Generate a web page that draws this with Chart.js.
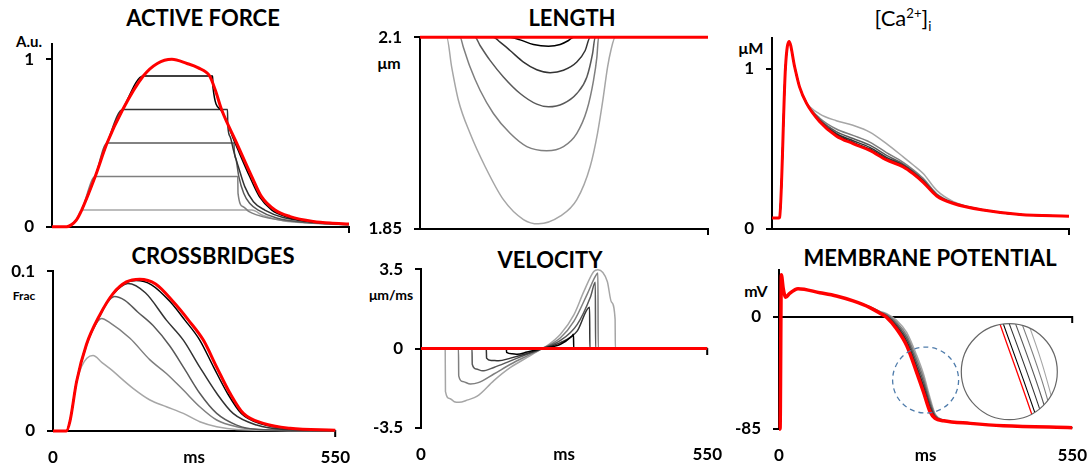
<!DOCTYPE html>
<html>
<head>
<meta charset="utf-8">
<script src="https://cdn.jsdelivr.net/npm/chart.js@4.4.0/dist/chart.umd.min.js"></script>
<style>
  body { margin: 0; background: #fff; }
  #fig { position: relative; width: 1089px; height: 467px; overflow: hidden; font-family: Lato, 'Open Sans', sans-serif; color: #000; }
  #fig canvas { position: absolute; }
  .lbl { position: absolute; transform: translate(-50%, -50%); font-weight: bold; white-space: nowrap; line-height: 1; }
  .ttl { font-size: 22px; }
  sup, sub { font-size: 60%; }
</style>
</head>
<body>
<div id="fig">
  <div class="lbl ttl" style="left:203px;top:18px">ACTIVE FORCE</div>
  <div class="lbl ttl" style="left:572px;top:18px">LENGTH</div>
  <div class="lbl ttl" style="left:903px;top:20px;font-weight:normal">[Ca<sup>2+</sup>]<sub>i</sub></div>
  <div class="lbl ttl" style="left:213px;top:256px">CROSSBRIDGES</div>
  <div class="lbl ttl" style="left:550px;top:260px">VELOCITY</div>
  <div class="lbl ttl" style="left:930px;top:258px">MEMBRANE POTENTIAL</div>
  <div class="lbl" style="left:29px;top:41px;font-size:15px">A.u.</div>
  <div class="lbl" style="left:389px;top:63px;font-size:16px">μm</div>
  <div class="lbl" style="left:751px;top:48px;font-size:16px">μM</div>
  <div class="lbl" style="left:24px;top:296px;font-size:12px">Frac</div>
  <div class="lbl" style="left:391px;top:295px;font-size:14px">μm/ms</div>
  <div class="lbl" style="left:756px;top:291px;font-size:16px">mV</div>
</div>
<script>
const FONT = "Lato, 'Open Sans', sans-serif";
const RED = '#ff0000';
// afterload 0.1 .. 0.9, light to dark
const GREYS = ['#a6a6a6', '#7f7f7f', '#595959', '#333333', '#000000'];
const xTicks = [0, 275, 550];

// ---- ACTIVE FORCE (A.u.) [ms, value]
const forceIso = [[0,0],[27,0],[35,0.01],[45,0.04],[55,0.1],[80,0.3],[102,0.5],[131,0.7],[169,0.9],[195,0.975],[222,1],[250,0.975],[270,0.95],[292,0.9],[303,0.81],[314,0.7],[342,0.5],[370,0.3],[388,0.18],[413,0.1],[441,0.061],[484,0.032],[515,0.022],[550,0.017]];
const force09 = [[0,0],[27,0],[35,0.01],[45,0.04],[55,0.1],[80,0.3],[102,0.5],[131,0.7],[169,0.9],[297.5,0.9],[298,0.835],[312,0.7],[339,0.5],[366,0.3],[384,0.18],[407,0.1],[434,0.06],[480,0.03],[550,0.015]];
const force07 = [[0,0],[27,0],[35,0.01],[45,0.04],[55,0.1],[80,0.3],[102,0.5],[131,0.7],[325,0.7],[325.5,0.607],[330,0.537],[336,0.458],[345,0.36],[357,0.24],[373,0.15],[394,0.1],[428,0.056],[484,0.03],[550,0.015]];
const force05 = [[0,0],[27,0],[35,0.01],[45,0.04],[55,0.1],[80,0.3],[102,0.5],[337,0.5],[337.5,0.455],[341,0.4],[346,0.3],[355,0.2],[366,0.14],[382,0.1],[416,0.052],[472,0.025],[550,0.013]];
const force03 = [[0,0],[27,0],[35,0.01],[45,0.04],[55,0.1],[80,0.3],[344,0.3],[344.5,0.2],[354,0.12],[365,0.09],[379,0.071],[428,0.037],[490,0.022],[550,0.012]];
const force01 = [[0,0],[27,0],[35,0.01],[45,0.04],[55,0.1],[370,0.1],[391,0.067],[428,0.036],[490,0.02],[550,0.011]];

// ---- LENGTH (um)
const lenIso = [[0,2.1],[550,2.1]];
const len09 = [[0,2.1],[172,2.1],[191.2,2.0965],[216.7,2.0905],[245.4,2.0883],[267.7,2.0905],[283.6,2.0957],[293.2,2.1],[550,2.1]];
const len07 = [[0,2.1],[140,2.1],[153,2.0935],[172,2.0827],[197.6,2.0676],[223,2.0576],[248.5,2.0537],[274,2.0568],[299.5,2.0676],[315.5,2.0827],[325,2.1],[550,2.1]];
const len05 = [[0,2.1],[105,2.1],[114.7,2.0892],[133.8,2.0697],[159.3,2.0481],[191.2,2.0265],[223,2.0126],[245.4,2.0092],[274,2.0135],[299.5,2.0265],[318.7,2.0481],[329.5,2.0784],[334.6,2.1],[550,2.1]];
const len03 = [[0,2.1],[76.5,2.1],[82.8,2.087],[95.6,2.061],[114.7,2.0308],[140.2,2.0005],[172,1.9746],[204,1.9573],[242,1.952],[274,1.9573],[299.5,1.9746],[318.7,2.0049],[331.4,2.0438],[337.8,2.074],[341,2.1],[550,2.1]];
const len01 = [[0,2.1],[51,2.1],[60.5,2.061],[73.3,2.0178],[95.6,1.9746],[124.3,1.9313],[159.3,1.888],[197.6,1.8621],[226.2,1.8565],[267.7,1.8664],[299.5,1.888],[325,1.9313],[339,1.9746],[349.2,2.0178],[358.2,2.061],[364.5,2.0827],[372.8,2.1],[550,2.1]];

// ---- [Ca2+]i (uM), common time base
const caT   = [0,13,14,25,31.5,42,51,64,88,119,150,181,212,243,261,280,305,336,397,459,550];
const caIso = [0.068,0.068,0.07,1.01,1.17,1.01,0.886,0.783,0.67,0.58,0.532,0.49,0.43,0.387,0.345,0.29,0.205,0.158,0.114,0.089,0.079];
const ca09  = [0.068,0.068,0.07,1.01,1.17,1.01,0.886,0.783,0.673,0.586,0.539,0.497,0.436,0.391,0.348,0.293,0.207,0.159,0.114,0.089,0.079];
const ca07  = [0.068,0.068,0.07,1.01,1.17,1.01,0.886,0.783,0.678,0.595,0.55,0.508,0.446,0.397,0.354,0.299,0.211,0.16,0.114,0.089,0.079];
const ca05  = [0.068,0.068,0.07,1.01,1.17,1.01,0.886,0.784,0.683,0.607,0.564,0.522,0.459,0.404,0.36,0.305,0.214,0.162,0.114,0.089,0.079];
const ca03  = [0.068,0.068,0.07,1.01,1.17,1.01,0.886,0.785,0.692,0.623,0.583,0.541,0.476,0.415,0.37,0.315,0.219,0.164,0.115,0.089,0.079];
const ca01  = [0.068,0.068,0.07,1.01,1.17,1.01,0.886,0.787,0.718,0.675,0.646,0.604,0.532,0.449,0.4,0.345,0.24,0.17,0.116,0.09,0.079];

// ---- CROSSBRIDGES (fraction)
const cbIso = [[0,0],[26,0],[33,0.006],[46,0.031],[65,0.054],[91,0.0725],[117,0.086],[143,0.0933],[169,0.095],[200,0.092],[234,0.081],[264,0.0694],[293,0.0569],[319,0.04],[345,0.0236],[371,0.011],[410,0.0048],[462,0.0017],[550,0.0005]];
const cb09 = [[0,0],[26,0],[33,0.006],[46,0.031],[65,0.054],[91,0.0725],[117,0.086],[143,0.093],[162,0.0942],[192,0.0915],[228,0.081],[257,0.0694],[286,0.0569],[313,0.04],[340,0.0236],[367,0.011],[405,0.0045],[460,0.0015],[550,0.0004]];
const cb07 = [[0,0],[26,0],[33,0.006],[46,0.031],[65,0.054],[91,0.0725],[117,0.0855],[146,0.0923],[180,0.0865],[221,0.0694],[254,0.0569],[286,0.04],[319,0.0236],[351,0.011],[397,0.0037],[450,0.001],[550,0.0003]];
const cb05 = [[0,0],[26,0],[33,0.006],[46,0.031],[65,0.054],[91,0.0715],[105,0.08],[120,0.0842],[140,0.0818],[165,0.0745],[195,0.066],[228,0.053],[256,0.039],[286,0.0236],[319,0.011],[358,0.0037],[400,0.001],[550,0.0002]];
const cb03 = [[0,0],[26,0],[33,0.006],[46,0.031],[65,0.053],[80,0.065],[95,0.0704],[110,0.068],[150,0.058],[189,0.0445],[221,0.036],[254,0.0256],[286,0.0152],[319,0.0069],[358,0.0027],[400,0.001],[550,0.0002]];
const cb01 = [[0,0],[26,0],[33,0.006],[46,0.031],[56,0.0405],[66,0.0455],[78,0.0472],[95,0.043],[111,0.039],[156,0.0267],[189,0.0194],[221,0.0152],[254,0.011],[286,0.0058],[319,0.0027],[358,0.001],[550,0.0001]];

// ---- VELOCITY (um/ms)
const velIso = [[0,0],[550,0]];
const vel09 = [[0,0],[164,0],[164.5,-0.17],[175,-0.23],[185,-0.25],[204,-0.15],[233,0],[268,0.19],[290,0.55],[293,0.63],[293.5,0],[550,0]];
const vel07 = [[0,0],[125.5,0],[126,-0.42],[135,-0.52],[149,-0.54],[172,-0.42],[204,-0.22],[233,0],[268,0.26],[300,0.77],[324,1.82],[324.5,0],[550,0]];
const vel05 = [[0,0],[98,0],[98.5,-0.69],[106,-0.9],[118,-0.98],[140,-0.83],[172,-0.54],[204,-0.25],[233,0],[268,0.36],[300,1.06],[326,2.3],[335,2.92],[335.5,0],[550,0]];
const vel03 = [[0,0],[72,0],[72.5,-1.2],[80,-1.45],[95,-1.56],[110,-1.5],[140,-1.12],[172,-0.69],[204,-0.32],[233,0],[268,0.48],[294,1.21],[319,2.38],[335,3.18],[340,3.33],[340.5,0],[550,0]];
const vel01 = [[0,0],[46.5,0],[47,-1.9],[55,-2.2],[64,-2.34],[73,-2.37],[90,-2.26],[108,-2.1],[140,-1.41],[172,-0.83],[204,-0.39],[230,-0.03],[242,0.12],[268,0.63],[294,1.5],[313,2.52],[332,3.4],[340,3.48],[358,2.96],[366,2.05],[373,1.3],[373.5,0],[550,0]];

// ---- MEMBRANE POTENTIAL (mV), common time base
const memT   = [0,2,4.4,8,12.5,20,35.7,76.5,107.8,139,170.5,189.4,202,220.7,239.5,258,271,283.4,292.8,308.5,358.6,421,550];
const memIso = [-85,-85,31.5,21,14.5,17.5,21,18,15.5,11.75,6.75,2.5,-0.75,-9.5,-22,-42,-57,-72,-77,-78.75,-80.75,-82.5,-84];
const mem09  = [-85,-85,31.5,21,14.5,17.5,21,18,15.5,11.75,6.84,2.68,-0.37,-8.64,-20.7,-40.32,-55.23,-70.65,-76.55,-78.68,-80.75,-82.5,-84];
const mem07  = [-85,-85,31.5,21,14.5,17.5,21,18,15.5,11.75,6.98,2.98,0.25,-7.22,-18.52,-37.52,-52.28,-68.4,-75.8,-78.55,-80.75,-82.5,-84];
const mem05  = [-85,-85,31.5,21,14.5,17.5,21,18,15.5,11.75,7.12,3.28,0.89,-5.8,-16.34,-34.72,-49.33,-66.15,-75.05,-78.43,-80.7,-82.5,-84];
const mem03  = [-85,-85,31.5,21,14.5,17.5,21,18,15.5,11.75,7.26,3.58,1.52,-4.37,-14.17,-31.92,-46.38,-63.9,-74.3,-78.3,-80.7,-82.5,-84];
const mem01  = [-85,-85,31.5,21,14.5,17.5,21,18,15.5,11.75,7.41,3.88,2.15,-2.95,-12.0,-29.12,-43.43,-61.65,-73.55,-78.18,-80.7,-82.5,-84];

// zoom circle: dashed ring around the repolarisation, magnified inset to the right
const ring  = {t: 275, v: -48, r: 33};
const inset = {t: 432, v: -41.7, r: 48, focusT: 257.5, focusV: -45, k: 4.5};

const fig = document.getElementById('fig');

function pairs(arr) { return arr.map(p => ({x: p[0], y: p[1]})); }
function onGrid(ts, vs) { return ts.map((t, i) => ({x: t, y: vs[i]})); }
function line(data, color, width) {
  return {data, borderColor: color, borderWidth: width, pointRadius: 0, fill: false, clip: 6, cubicInterpolationMode: 'monotone'};
}
// Chart.js paints the first dataset last, so red goes first, then dark to light greys
function family(greys, iso, redWidth) {
  const ds = [line(iso, RED, redWidth || 3)];
  for (let i = greys.length - 1; i >= 0; i--) ds.push(line(greys[i], GREYS[i], 1.5));
  return ds;
}

// horizontal axis drawn at a chosen y value, with an end tick on the right
const baseAxis = {
  id: 'baseAxis',
  beforeDatasetsDraw(chart, args, opts) {
    const {ctx, chartArea: a, scales: {y}} = chart;
    const yy = Math.round(y.getPixelForValue(opts.at));
    ctx.save();
    ctx.strokeStyle = '#000';
    ctx.lineWidth = 2;
    ctx.beginPath();
    ctx.moveTo(a.left, yy);
    ctx.lineTo(a.right, yy);
    ctx.moveTo(a.right, yy - 1);
    ctx.lineTo(a.right, yy + 6);
    ctx.stroke();
    ctx.restore();
  }
};

const zoomInset = {
  id: 'zoomInset',
  afterDatasetsDraw(chart) {
    const {ctx, scales: {x, y}} = chart;
    ctx.save();
    ctx.setLineDash([5, 4]);
    ctx.strokeStyle = '#4f7cab';
    ctx.lineWidth = 1.3;
    ctx.beginPath();
    ctx.arc(x.getPixelForValue(ring.t), y.getPixelForValue(ring.v), ring.r, 0, Math.PI * 2);
    ctx.stroke();
    ctx.setLineDash([]);

    const cx = x.getPixelForValue(inset.t), cy = y.getPixelForValue(inset.v);
    const fx = x.getPixelForValue(inset.focusT), fy = y.getPixelForValue(inset.focusV);
    const k = inset.k;
    const tx = px => cx + (px - fx) * k;
    const ty = py => cy + (py - fy) * k;
    ctx.beginPath();
    ctx.arc(cx, cy, inset.r, 0, Math.PI * 2);
    ctx.fillStyle = '#fff';
    ctx.fill();
    ctx.save();
    ctx.clip();
    const n = chart.data.datasets.length;
    for (let di = n - 1; di >= 0; di--) {
      const ds = chart.data.datasets[di];
      const pts = chart.getDatasetMeta(di).data;
      ctx.beginPath();
      pts.forEach((p, i) => {
        if (i === 0) { ctx.moveTo(tx(p.x), ty(p.y)); return; }
        const q = pts[i - 1];
        ctx.bezierCurveTo(tx(q.cp2x), ty(q.cp2y), tx(p.cp1x), ty(p.cp1y), tx(p.x), ty(p.y));
      });
      ctx.strokeStyle = ds.borderColor;
      ctx.lineWidth = ds.borderColor === RED ? 1.3 : 1.1;
      ctx.stroke();
    }
    ctx.restore();
    ctx.beginPath();
    ctx.arc(cx, cy, inset.r, 0, Math.PI * 2);
    ctx.strokeStyle = '#666';
    ctx.lineWidth = 1.2;
    ctx.stroke();
    ctx.restore();
  }
};

function panelConfig(yCfg, datasets, axisAt, showX, extra) {
  const tickFont = {family: FONT, size: 17, weight: 'bold'};
  return {
    type: 'line',
    data: {datasets},
    options: {
      responsive: false,
      animation: false,
      devicePixelRatio: 1,
      layout: {padding: {top: 4, right: 4, left: 0, bottom: 4}},
      plugins: {legend: {display: false}, tooltip: {enabled: false}, baseAxis: {at: axisAt}},
      scales: {
        x: {
          type: 'linear', min: 0, max: 550, display: showX,
          afterFit: s => { if (showX) s.height = 40; },
          afterBuildTicks: s => { s.ticks = xTicks.map(v => ({value: v})); },
          grid: {display: false}, border: {display: false},
          ticks: {padding: 8, maxRotation: 0, autoSkip: false, color: '#000', font: tickFont,
                  callback: v => (v === 275 ? 'ms' : String(v))}
        },
        y: {
          type: 'linear', min: yCfg.min, max: yCfg.max,
          afterFit: s => { s.width = 60; },
          afterBuildTicks: s => { s.ticks = yCfg.ticks.map(v => ({value: v})); },
          border: {display: true, color: '#000', width: 2},
          grid: {drawOnChartArea: false, drawTicks: true, tickLength: 6, color: '#000', lineWidth: 2},
          ticks: {padding: 12, autoSkip: false, color: '#000', font: tickFont, callback: v => String(v)}
        }
      }
    },
    plugins: [baseAxis].concat(extra || [])
  };
}

// draw once to learn the margins round the plot area, then size the canvas so the plot area lands on box
function makePanel(box, yCfg, datasets, axisAt, showX, extra) {
  const cv = document.createElement('canvas');
  fig.appendChild(cv);
  cv.width = box.r - box.l + 100;
  cv.height = box.b - box.t + 100;
  let chart = new Chart(cv, panelConfig(yCfg, datasets, axisAt, showX, extra));
  const a = chart.chartArea;
  const padL = a.left, padT = a.top, padR = cv.width - a.right, padB = cv.height - a.bottom;
  chart.destroy();
  cv.width = Math.round(box.r - box.l + padL + padR);
  cv.height = Math.round(box.b - box.t + padT + padB);
  cv.style.width = cv.width + 'px';
  cv.style.height = cv.height + 'px';
  cv.style.left = Math.round(box.l - padL) + 'px';
  cv.style.top = Math.round(box.t - padT) + 'px';
  chart = new Chart(cv, panelConfig(yCfg, datasets, axisAt, showX, extra));
  return chart;
}

makePanel({l: 52, r: 349, t: 44, b: 227}, {min: 0, max: 1.09, ticks: [0, 1]},
  family([force01, force03, force05, force07, force09].map(pairs), pairs(forceIso)), 0, false);

makePanel({l: 420, r: 708, t: 37, b: 229}, {min: 1.85, max: 2.1, ticks: [1.85, 2.1]},
  family([len01, len03, len05, len07, len09].map(pairs), pairs(lenIso)), 1.85, false);

makePanel({l: 772, r: 1069, t: 38, b: 229}, {min: 0, max: 1.19, ticks: [0, 1]},
  family([ca01, ca03, ca05, ca07, ca09].map(v => onGrid(caT, v)), onGrid(caT, caIso)), 0, false);

makePanel({l: 53, r: 335, t: 271, b: 431}, {min: 0, max: 0.1, ticks: [0, 0.1]},
  family([cb01, cb03, cb05, cb07, cb09].map(pairs), pairs(cbIso)), 0, true);

makePanel({l: 421, r: 707, t: 269, b: 428}, {min: -3.5, max: 3.5, ticks: [-3.5, 0, 3.5]},
  family([vel01, vel03, vel05, vel07, vel09].map(pairs), pairs(velIso)), 0, true);

makePanel({l: 779, r: 1072, t: 270, b: 429}, {min: -85, max: 35, ticks: [-85, 0]},
  family([mem01, mem03, mem05, mem07, mem09].map(v => onGrid(memT, v)), onGrid(memT, memIso), 3.5), 0, true, [zoomInset]);
</script>
</body>
</html>
